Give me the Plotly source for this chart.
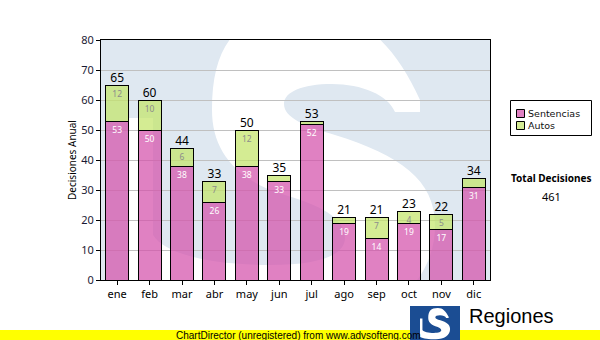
import base64
import plotly.graph_objects as go

# Monthly decisions, split by type
meses = ["ene", "feb", "mar", "abr", "may", "jun", "jul", "ago", "sep", "oct", "nov", "dic"]
sentencias = [53, 50, 38, 26, 38, 33, 52, 19, 14, 19, 17, 31]
autos = [12, 10, 6, 7, 12, 2, 1, 2, 7, 4, 5, 3]
y_ticks = [0, 10, 20, 30, 40, 50, 60, 70, 80]

totales = [s + a for s, a in zip(sentencias, autos)]
total_decisiones = sum(totales)

FONT = "Noto Sans"
PINK = "rgba(212,80,170,0.72)"
GREEN = "rgba(195,229,106,0.72)"
PINK_SOLID = "#e080c2"
GREEN_SOLID = "#d4eb94"
BG_BLUE = "#dfe8f1"
LOGO_BLUE = "#1b4d93"

W, H = 600, 340
PL, PR, PT, PB = 101, 490, 40, 280  # plot area, pixels


def fx(px):
    return (px - PL) / (PR - PL)


def fy(py):
    return (PB - py) / (PB - PT)


# Large "S" emblem used as the plot background and as the small logo
S_PATH = (
    "M 420 112 L 395 112 "
    "C 388 95, 362 84, 332 84 "
    "C 302 84, 284 92, 284 104 "
    "C 284 118, 305 126, 335 135 "
    "C 400 155, 435 180, 435 225 "
    "C 435 290, 375 330, 290 330 "
    "C 220 330, 160 320, 128 305 "
    "L 128 118 L 153 118 L 153 235 "
    "C 165 255, 215 265, 270 265 "
    "C 320 265, 345 255, 345 238 "
    "C 345 218, 320 205, 285 195 "
    "C 235 180, 212 150, 212 110 "
    "C 212 40, 240 10, 310 10 "
    "C 360 10, 395 45, 420 100 Z"
)


def svg_uri(svg):
    return "data:image/svg+xml;base64," + base64.b64encode(svg.encode()).decode()


bg_svg = (
    f'<svg xmlns="http://www.w3.org/2000/svg" width="{PR-PL}" height="{PB-PT}" '
    f'viewBox="{PL} {PT} {PR-PL} {PB-PT}" preserveAspectRatio="none">'
    f'<rect x="{PL}" y="{PT}" width="{PR-PL}" height="{PB-PT}" fill="{BG_BLUE}"/>'
    f'<path d="{S_PATH}" fill="#ffffff"/></svg>'
)

LX0, LY0, LW, LH = 410, 306, 50, 34
logo_svg = (
    f'<svg xmlns="http://www.w3.org/2000/svg" width="{LW}" height="{LH}" '
    f'viewBox="{LX0} {LY0} {LW} {LH}" preserveAspectRatio="none">'
    f'<rect x="{LX0}" y="{LY0}" width="{LW}" height="{LH + 10}" fill="{LOGO_BLUE}"/>'
    f'<path d="{S_PATH}" fill="#ffffff" '
    f'transform="translate(420,308) scale(0.098) translate(-128,-10)"/></svg>'
)

fig = go.Figure()

fig.add_trace(go.Bar(
    x=meses, y=sentencias, name="Sentencias", width=0.71,
    marker=dict(color=PINK, line=dict(color="black", width=1)),
    text=[str(v) if v >= 4 else "" for v in sentencias],
    textposition="inside", insidetextanchor="end", textangle=0,
    constraintext="none",
    textfont=dict(family=FONT, size=8.5, color="white"),
    hoverinfo="skip",
))
fig.add_trace(go.Bar(
    x=meses, y=autos, name="Autos", width=0.71,
    marker=dict(color=GREEN, line=dict(color="black", width=1)),
    text=[str(v) if v >= 4 else "" for v in autos],
    textposition="inside", insidetextanchor="end", textangle=0,
    constraintext="none",
    textfont=dict(family=FONT, size=8.5, color="#8c8c8c"),
    hoverinfo="skip",
))
fig.add_trace(go.Scatter(
    x=meses, y=totales, mode="text", text=[str(t) for t in totales],
    textposition="top center",
    textfont=dict(family=FONT, size=12, color="black"),
    hoverinfo="skip", cliponaxis=False,
))

shapes = [
    # watermark strip at the bottom
    dict(type="rect", xref="paper", yref="paper", layer="below",
         x0=fx(0), x1=fx(W), y0=fy(H + 2), y1=fy(330),
         fillcolor="#ffff00", line=dict(width=0)),
    # legend box
    dict(type="rect", xref="paper", yref="paper",
         x0=fx(510.5), x1=fx(591.5), y0=fy(135.5), y1=fy(100.5),
         fillcolor="white", line=dict(color="black", width=1)),
    dict(type="rect", xref="paper", yref="paper",
         x0=fx(516.5), x1=fx(524.5), y0=fy(117.5), y1=fy(109.5),
         fillcolor=PINK_SOLID, line=dict(color="black", width=1)),
    dict(type="rect", xref="paper", yref="paper",
         x0=fx(516.5), x1=fx(524.5), y0=fy(129.5), y1=fy(121.5),
         fillcolor=GREEN_SOLID, line=dict(color="black", width=1)),
]

annotations = [
    dict(text="Sentencias", x=fx(526), y=fy(113), xref="paper", yref="paper",
         xanchor="left", yanchor="middle", showarrow=False,
         font=dict(family="DejaVu Sans", size=9.5, color="#111")),
    dict(text="Autos", x=fx(526), y=fy(125.5), xref="paper", yref="paper",
         xanchor="left", yanchor="middle", showarrow=False,
         font=dict(family="DejaVu Sans", size=9.5, color="#111")),
    dict(text="<b>Total Decisiones</b>", x=fx(551), y=fy(178), xref="paper", yref="paper",
         xanchor="center", yanchor="middle", showarrow=False,
         font=dict(family=FONT, size=10, color="black")),
    dict(text=str(total_decisiones), x=fx(551), y=fy(196), xref="paper", yref="paper",
         xanchor="center", yanchor="middle", showarrow=False,
         font=dict(family=FONT, size=11, color="black")),
    dict(text="Regiones", x=fx(467), y=fy(316), xref="paper", yref="paper",
         xanchor="left", yanchor="middle", showarrow=False,
         font=dict(family="Liberation Sans", size=20, color="black")),
    dict(text="ChartDirector (unregistered) from www.advsofteng.com",
         x=fx(298), y=fy(335), xref="paper", yref="paper",
         xanchor="center", yanchor="middle", showarrow=False,
         font=dict(family="Liberation Sans", size=10, color="black")),
]

images = [
    dict(source=svg_uri(bg_svg), xref="paper", yref="paper", x=0, y=1,
         sizex=1, sizey=1, xanchor="left", yanchor="top", sizing="stretch",
         layer="below"),
    dict(source=svg_uri(logo_svg), xref="paper", yref="paper",
         x=fx(LX0), y=fy(LY0), sizex=LW / (PR - PL), sizey=LH / (PB - PT),
         xanchor="left", yanchor="top", sizing="stretch", layer="above"),
]

fig.update_layout(
    width=W, height=H, barmode="stack", showlegend=False,
    margin=dict(l=PL, r=W - PR, t=PT, b=H - PB, autoexpand=False),
    paper_bgcolor="white", plot_bgcolor=BG_BLUE,
    font=dict(family=FONT, size=11, color="black"),
    shapes=shapes, annotations=annotations, images=images,
    xaxis=dict(
        range=[-0.5, len(meses) - 0.5], showgrid=False, showline=True,
        linecolor="black", linewidth=1, mirror=True,
        ticks="outside", ticklen=4, tickcolor="black",
        tickfont=dict(family=FONT, size=11, color="black"),
        fixedrange=True,
    ),
    yaxis=dict(
        range=[0, 80], tickvals=y_ticks, showgrid=True, gridcolor="#c0c0c0",
        gridwidth=1, zeroline=False, showline=True, linecolor="black",
        linewidth=1, mirror=True, ticks="outside", ticklen=4,
        tickcolor="black", tickfont=dict(family=FONT, size=11, color="#1a1a33"),
        title=dict(text="Decisiones Anual", standoff=2,
                   font=dict(family=FONT, size=10, color="black")),
        fixedrange=True,
    ),
)

fig.write_html("out.html", config={"displayModeBar": False})
